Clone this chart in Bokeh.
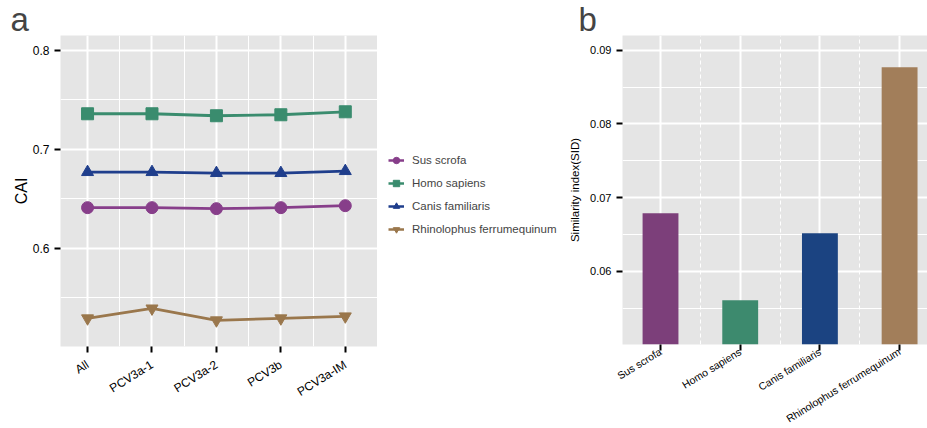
from bokeh.plotting import figure
from bokeh.models import Range1d, FixedTicker, Legend, LegendItem, Title, Spacer
from bokeh.layouts import row
from bokeh.embed import file_html
from bokeh.resources import INLINE

# ---------------- data ----------------
groups = ["All", "PCV3a-1", "PCV3a-2", "PCV3b", "PCV3a-IM"]
cai_sus = [0.641, 0.641, 0.640, 0.641, 0.643]
cai_homo = [0.736, 0.736, 0.734, 0.735, 0.738]
cai_canis = [0.677, 0.677, 0.676, 0.676, 0.678]
cai_rhino = [0.529, 0.539, 0.527, 0.529, 0.531]

species = ["Sus scrofa", "Homo sapiens", "Canis familiaris", "Rhinolophus ferrumequinum"]
sid_values = [0.0679, 0.0561, 0.0652, 0.0877]

a_yticks = [0.6, 0.7, 0.8]
a_yminor = [0.55, 0.65, 0.75]
b_yticks = [0.06, 0.07, 0.08, 0.09]
b_yminor = [0.055, 0.065, 0.075, 0.085]

line_colors = ["#873E8A", "#3A8C6E", "#1F3E8C", "#9A774C"]
bar_colors = ["#7C3F7A", "#3D8A6E", "#1B4381", "#A27E5A"]
markers = ["circle", "square", "triangle", "inverted_triangle"]
series = [cai_sus, cai_homo, cai_canis, cai_rhino]

FONT = "Liberation Sans"
BG = "#E5E5E5"


def style(p):
    p.background_fill_color = BG
    p.border_fill_color = "white"
    p.outline_line_color = None
    for ax in (p.xaxis, p.yaxis):
        ax.axis_line_color = None
        ax.major_tick_line_color = "black"
        ax.major_tick_line_width = 2
        ax.major_tick_out = 6
        ax.major_tick_in = 0
        ax.minor_tick_line_color = None
        ax.major_label_text_font = FONT
        ax.major_label_text_color = "black"
        ax.axis_label_text_font = FONT
        ax.axis_label_text_font_style = "normal"
        ax.axis_label_text_color = "black"
    for g in (p.xgrid, p.ygrid):
        g.grid_line_color = "white"
        g.grid_line_width = 2
        g.minor_grid_line_color = "white"
        g.minor_grid_line_width = 1


def letter(p, txt, off):
    t = Title(text=txt, align="left", offset=off, standoff=-4,
              text_font=FONT, text_font_size="33px", text_font_style="normal",
              text_line_height=0.7)
    p.add_layout(t, "above")


# ---------------- panel a ----------------
xs = list(range(len(groups)))
p1 = figure(frame_width=317, frame_height=311, output_backend="svg",
            toolbar_location=None,
            x_range=Range1d(-0.42, 4.5), y_range=Range1d(0.5005, 0.8152),
            min_border_left=52, min_border_right=0, min_border_top=35,
            min_border_bottom=74)
style(p1)
p1.xaxis.ticker = FixedTicker(ticks=xs, minor_ticks=[0.5, 1.5, 2.5, 3.5])
p1.xaxis.major_label_overrides = {i: g for i, g in enumerate(groups)}
p1.xaxis.major_label_orientation = 0.56
p1.xaxis.major_label_text_font_size = "12px"
p1.xaxis.major_label_standoff = 11
p1.yaxis.ticker = FixedTicker(ticks=a_yticks, minor_ticks=a_yminor)
p1.yaxis.major_label_text_font_size = "12px"
p1.yaxis.axis_label = "CAI"
p1.yaxis.axis_label_text_font_size = "16px"
p1.yaxis.axis_label_standoff = 0

for vals, col, mk in zip(series, line_colors, markers):
    p1.line(xs, vals, line_color=col, line_width=2.8)
    p1.scatter(xs, vals, marker=mk, size=12, fill_color=col, line_color=col)
letter(p1, "a", -50)

# ---------------- legend strip (same series, outside its visible range) ----------------
pl = figure(width=189, height=412, output_backend="svg", toolbar_location=None,
            x_axis_location=None, y_axis_location=None, min_border=0,
            x_range=Range1d(-0.42, 4.5), y_range=Range1d(10, 11))
pl.outline_line_color = None
pl.background_fill_color = "white"
pl.border_fill_color = "white"
pl.xgrid.visible = False
pl.ygrid.visible = False
items = []
for name, vals, col, mk in zip(species, series, line_colors, markers):
    lr = pl.line(xs, vals, line_color=col, line_width=2.5)
    sr = pl.scatter(xs, vals, marker=mk, size=12, fill_color=col, line_color=col)
    items.append(LegendItem(label=name, renderers=[lr, sr]))
legend = Legend(items=items, location=(11, 87), border_line_color=None,
                background_fill_alpha=0, label_text_font=FONT,
                label_text_font_size="11.5px", glyph_width=16, glyph_height=16,
                label_height=16, spacing=7, padding=0, margin=0, label_standoff=8)
pl.add_layout(legend)

# ---------------- panel b ----------------
bx = list(range(len(species)))
p2 = figure(frame_width=305, frame_height=309, output_backend="svg",
            toolbar_location=None,
            x_range=Range1d(-0.477, 3.35), y_range=Range1d(0.0501, 0.0920),
            min_border_left=56, min_border_right=0, min_border_top=35,
            min_border_bottom=76)
style(p2)
p2.vbar(x=bx, top=sid_values, bottom=0.0, width=0.45, fill_color=bar_colors,
        line_color=None)
p2.xaxis.ticker = FixedTicker(ticks=bx, minor_ticks=[0.5, 1.5, 2.5])
p2.xaxis.major_label_overrides = {i: s for i, s in enumerate(species)}
p2.xaxis.major_label_orientation = 0.55
p2.xaxis.major_label_text_font_size = "10.5px"
p2.xaxis.major_label_standoff = 0
p2.xgrid.minor_grid_line_dash = "4 3"
p2.yaxis.ticker = FixedTicker(ticks=b_yticks, minor_ticks=b_yminor)
p2.yaxis.major_label_text_font_size = "11px"
p2.yaxis.axis_label = "Similarity index(SID)"
p2.yaxis.axis_label_text_font_size = "11.5px"
p2.yaxis.axis_label_standoff = 6
letter(p2, "b", -44)

layout = row(Spacer(width=8, height=412), p1, pl, p2)
open("out.html", "w").write(file_html(layout, INLINE))
